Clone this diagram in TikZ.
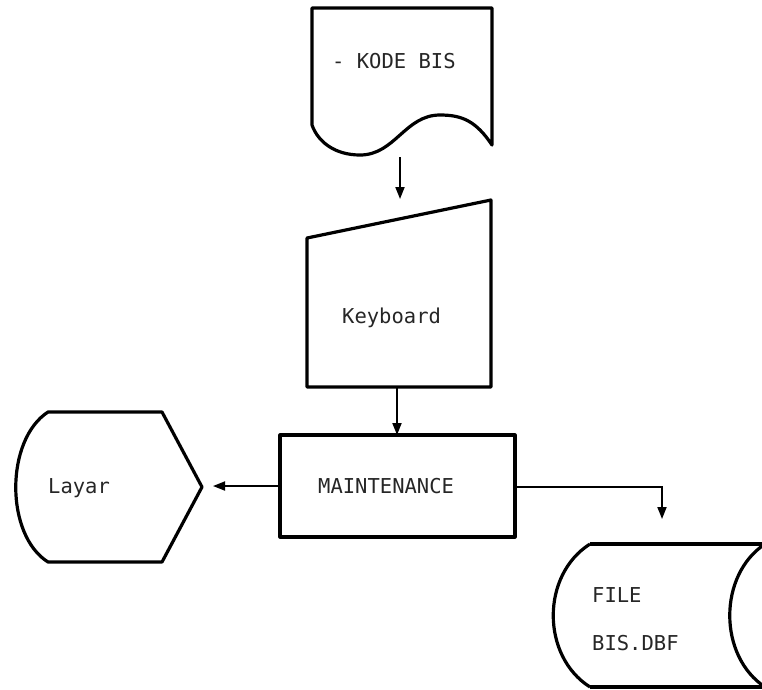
\documentclass[tikz,border=0pt]{standalone}
\usepackage{fontspec}
\setmonofont{DejaVu Sans Mono}
\usetikzlibrary{arrows.meta}
\begin{document}
\begin{tikzpicture}[x=1pt,y=-1pt,
  shapeline/.style={draw=black,line width=3.2pt,line join=round},
  conn/.style={draw=black,line width=1.8pt,-{Triangle[length=12pt,width=9pt]}},
  lbl/.style={font=\ttfamily\fontsize{20.5}{24}\selectfont,inner sep=0pt,anchor=base west,text=black!85}]
\useasboundingbox (0,0) rectangle (762,689);
% document shape
\draw[shapeline] (312,8) -- (492,8) -- (492,145)
  .. controls (476,121) and (462,115) .. (440,115)
  .. controls (405,115) and (395,155) .. (360,155)
  .. controls (335,155) and (318,142) .. (312,125) -- cycle;
\node[lbl] (kode) at (332,68) {- KODE BIS};
% keyboard (manual input)
\draw[shapeline] (307,238) -- (491,200) -- (491,387) -- (307,387) -- cycle;
\node[lbl] (kbd) at (342,323) {Keyboard};
% process
\draw[shapeline] (280,435) rectangle (515,537);
\node[lbl] (maint) at (318,493) {MAINTENANCE};
% display
\draw[shapeline] (48,412) -- (162,412) -- (202,487) -- (162,562) -- (48,562)
  .. controls (5,535) and (5,440) .. (48,412) -- cycle;
\node[lbl] (layar) at (48,493) {Layar};
% stored data
\draw[shapeline] (590,544) -- (775,544);
\draw[shapeline] (590,687) -- (775,687);
\draw[shapeline] (590,544) .. controls (541,575) and (541,656) .. (590,687);
\draw[shapeline] (765,544) .. controls (718,575) and (718,656) .. (765,687);
\node[lbl] (file1) at (592,602) {FILE};
\node[lbl] (file2) at (592,650) {BIS.DBF};
% connection points
\coordinate (docOut) at (400,157);
\coordinate (kbdIn) at (400,199);
\coordinate (kbdOut) at (397,387);
\coordinate (mTop) at (397,435);
\coordinate (mLeft) at (280,486);
\coordinate (layarIn) at (213,486);
\coordinate (mRight) at (515,487);
\coordinate (fileIn) at (662,519);
% connectors
\draw[conn] (docOut) -- (kbdIn);
\draw[conn] (kbdOut) -- (mTop);
\draw[conn] (mLeft) -- (layarIn);
\draw[conn] (mRight) -| (fileIn);
\end{tikzpicture}
\end{document}
